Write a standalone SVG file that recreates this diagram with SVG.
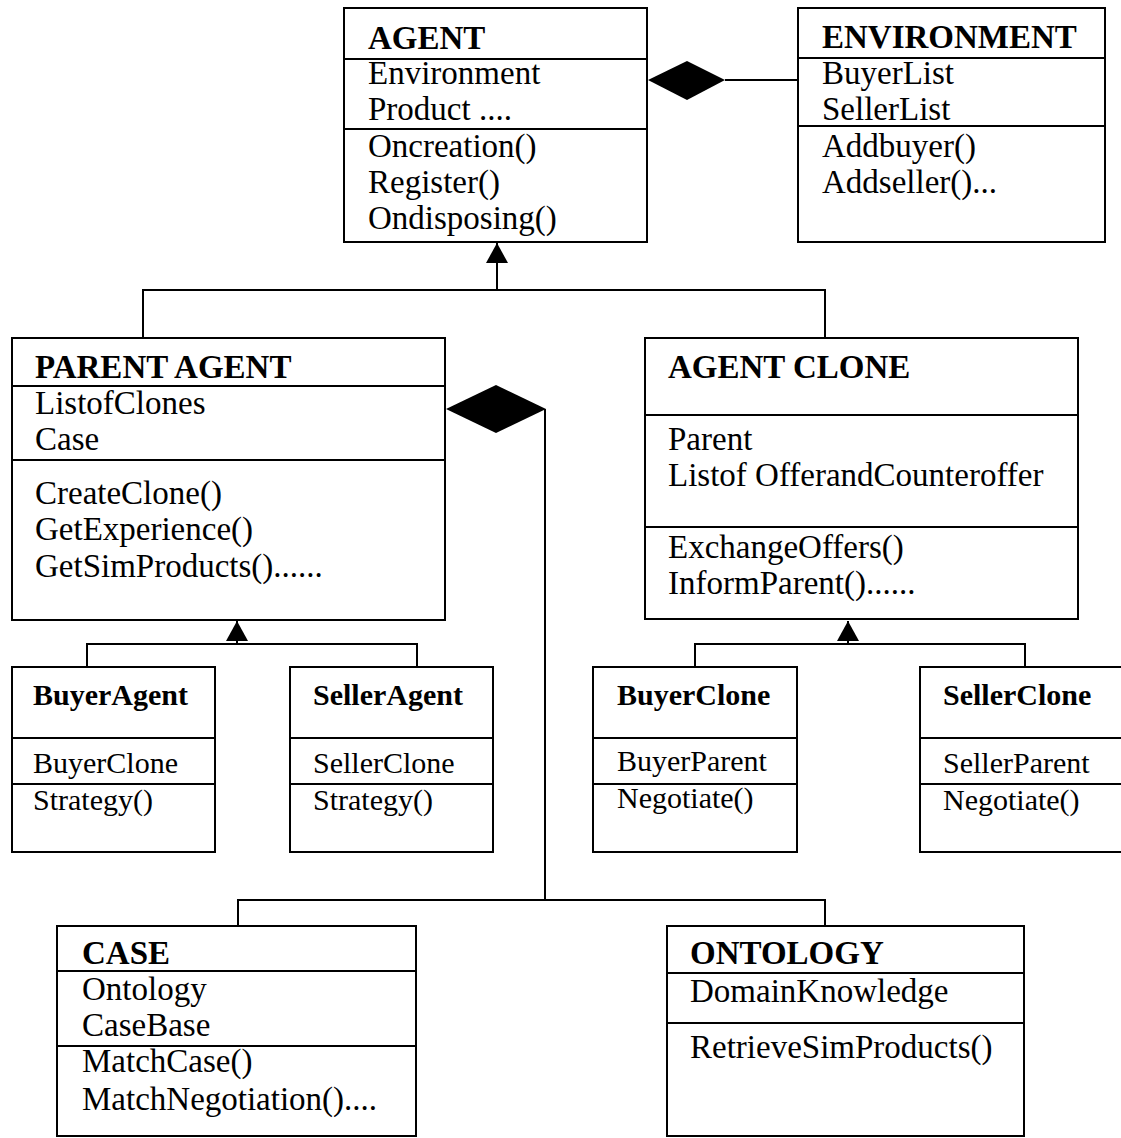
<svg xmlns="http://www.w3.org/2000/svg" width="1121" height="1138" viewBox="0 0 1121 1138">
<style>
.box{fill:#fff;stroke:#000;stroke-width:2}
.div{stroke:#000;stroke-width:2}
.con{fill:none;stroke:#000;stroke-width:2}
text{font-family:"Liberation Serif","Times New Roman",serif;font-size:33px;fill:#000}
.t{font-weight:bold}
.s{font-size:30px}
</style>
<defs>
<marker id="tri" markerUnits="userSpaceOnUse" markerWidth="20" markerHeight="22" viewBox="0 0 20 22" refX="20" refY="11" orient="auto">
<path d="M0,0 L20,11 L0,22 z" fill="#000"/>
</marker>
</defs>
<rect width="1121" height="1138" fill="#fff"/>
<g id="connectors">
<path class="con" d="M143,338 V290 H825 V338"/>
<path class="con" d="M497,290 V243" marker-end="url(#tri)"/>
<path class="con" d="M87,667 V644 H417 V667"/>
<path class="con" d="M237,644 V621" marker-end="url(#tri)"/>
<path class="con" d="M695,667 V644 H1025 V667"/>
<path class="con" d="M848,644 V621" marker-end="url(#tri)"/>
<path class="con" d="M725,80 H798"/>
<polygon points="648,80 687,61 725,80 687,100" fill="#000"/>
<path class="con" d="M545,409 V900 M238,926 V900 H825 V926"/>
<polygon points="446,409 496,385 546,409 496,433" fill="#000"/>
</g>
<g id="agent">
<rect class="box" x="344" y="8" width="303" height="234"/>
<line class="div" x1="344" y1="59" x2="647" y2="59"/>
<line class="div" x1="344" y1="129" x2="647" y2="129"/>
<text class="t" x="368" y="49">AGENT</text>
<text x="368" y="84">Environment</text>
<text x="368" y="120">Product ....</text>
<text x="368" y="157">Oncreation()</text>
<text x="368" y="193">Register()</text>
<text x="368" y="229">Ondisposing()</text>
</g>
<g id="environment">
<rect class="box" x="798" y="8" width="307" height="234"/>
<line class="div" x1="798" y1="58" x2="1105" y2="58"/>
<line class="div" x1="798" y1="126" x2="1105" y2="126"/>
<text class="t" x="822" y="48">ENVIRONMENT</text>
<text x="822" y="84">BuyerList</text>
<text x="822" y="120">SellerList</text>
<text x="822" y="157">Addbuyer()</text>
<text x="822" y="193">Addseller()...</text>
</g>
<g id="parent-agent">
<rect class="box" x="12" y="338" width="433" height="282"/>
<line class="div" x1="12" y1="386" x2="445" y2="386"/>
<line class="div" x1="12" y1="460" x2="445" y2="460"/>
<text class="t" x="35" y="378">PARENT AGENT</text>
<text x="35" y="414">ListofClones</text>
<text x="35" y="450">Case</text>
<text x="35" y="504">CreateClone()</text>
<text x="35" y="540">GetExperience()</text>
<text x="35" y="577">GetSimProducts()......</text>
</g>
<g id="agent-clone">
<rect class="box" x="645" y="338" width="433" height="281"/>
<line class="div" x1="645" y1="415" x2="1078" y2="415"/>
<line class="div" x1="645" y1="527" x2="1078" y2="527"/>
<text class="t" x="668" y="378">AGENT CLONE</text>
<text x="668" y="450">Parent</text>
<text x="668" y="486">Listof OfferandCounteroffer</text>
<text x="668" y="558">ExchangeOffers()</text>
<text x="668" y="594">InformParent()......</text>
</g>
<g id="buyer-agent">
<rect class="box" x="12" y="667" width="203" height="185"/>
<line class="div" x1="12" y1="738" x2="215" y2="738"/>
<line class="div" x1="12" y1="784" x2="215" y2="784"/>
<text class="t s" x="33" y="705">BuyerAgent</text>
<text class="s" x="33" y="773">BuyerClone</text>
<text class="s" x="33" y="810">Strategy()</text>
</g>
<g id="seller-agent">
<rect class="box" x="290" y="667" width="203" height="185"/>
<line class="div" x1="290" y1="738" x2="493" y2="738"/>
<line class="div" x1="290" y1="784" x2="493" y2="784"/>
<text class="t s" x="313" y="705">SellerAgent</text>
<text class="s" x="313" y="773">SellerClone</text>
<text class="s" x="313" y="810">Strategy()</text>
</g>
<g id="buyer-clone">
<rect class="box" x="593" y="667" width="204" height="185"/>
<line class="div" x1="593" y1="738" x2="797" y2="738"/>
<line class="div" x1="593" y1="784" x2="797" y2="784"/>
<text class="t s" x="617" y="705">BuyerClone</text>
<text class="s" x="617" y="771">BuyerParent</text>
<text class="s" x="617" y="808">Negotiate()</text>
</g>
<g id="seller-clone">
<rect class="box" x="920" y="667" width="215" height="185"/>
<line class="div" x1="920" y1="738" x2="1135" y2="738"/>
<line class="div" x1="920" y1="784" x2="1135" y2="784"/>
<text class="t s" x="943" y="705">SellerClone</text>
<text class="s" x="943" y="773">SellerParent</text>
<text class="s" x="943" y="810">Negotiate()</text>
</g>
<g id="case">
<rect class="box" x="57" y="926" width="359" height="210"/>
<line class="div" x1="57" y1="971" x2="416" y2="971"/>
<line class="div" x1="57" y1="1046" x2="416" y2="1046"/>
<text class="t" x="82" y="964">CASE</text>
<text x="82" y="1000">Ontology</text>
<text x="82" y="1036">CaseBase</text>
<text x="82" y="1072">MatchCase()</text>
<text x="82" y="1110">MatchNegotiation()....</text>
</g>
<g id="ontology">
<rect class="box" x="667" y="926" width="357" height="210"/>
<line class="div" x1="667" y1="973" x2="1024" y2="973"/>
<line class="div" x1="667" y1="1023" x2="1024" y2="1023"/>
<text class="t" x="690" y="964">ONTOLOGY</text>
<text x="690" y="1002">DomainKnowledge</text>
<text x="690" y="1058">RetrieveSimProducts()</text>
</g>
</svg>
